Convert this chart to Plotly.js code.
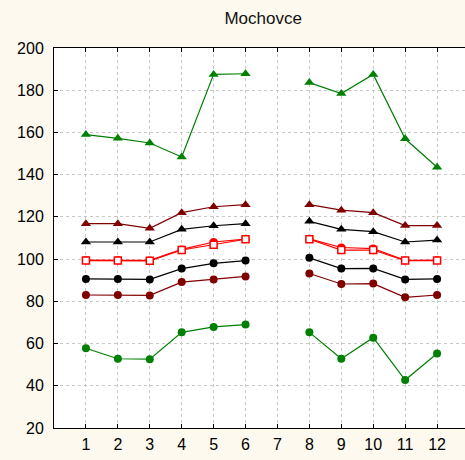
<!DOCTYPE html>
<html>
<head>
<meta charset="utf-8">
<script src="https://cdn.plot.ly/plotly-3.0.1.min.js"></script>
<style>
html,body{margin:0;padding:0;overflow:hidden;background:#fdf9ee;}
#chart{width:470px;height:460px;}
</style>
</head>
<body>
<div id="chart"></div>
<script>
var months = [1,2,3,4,5,6,7,8,9,10,11,12];
var greenTri   = [159, 157.2, 155, 148.4, 187.5, 187.8, null, 183.6, 178.4, 187.5, 157, 143.5];
var darkRedTri = [116.8, 116.8, 114.6, 122, 124.8, 125.8, null, 125.8, 123.2, 122, 115.9, 115.9];
var blackTri   = [108.1, 108.1, 108.1, 114.1, 115.8, 116.8, null, 117.9, 114.1, 113, 108.1, 109];
var redCircle  = [99.5, 99.5, 99.4, 104.6, 108.1, 109.5, null, 109.6, 105.5, 105, 99.4, 99.5];
var redSquare  = [99.3, 99.3, 99.2, 104.3, 106.8, 109.4, null, 109.4, 104.3, 104.3, 99.3, 99.3];
var blackCirc  = [90.6, 90.6, 90.4, 95.5, 98, 99.3, null, 100.6, 95.5, 95.6, 90.4, 90.6];
var darkRedCirc= [83, 83, 82.8, 89.1, 90.4, 91.8, null, 93.2, 88.2, 88.4, 81.9, 83];
var greenCirc  = [57.8, 52.8, 52.6, 65.3, 67.9, 69, null, 65.3, 52.8, 62.8, 42.7, 55.3];
var yTicks = [20,40,60,80,100,120,140,160,180,200];
var xTicks = months;

function tr(y, color, symbol, size, fill){
  return {x: months, y: y, type:'scatter', mode:'lines+markers',
    connectgaps:false, cliponaxis:false,
    line:{color:color, width:1.2},
    marker:{symbol:symbol, size:size, color: fill || color,
      line:{color:color, width: fill ? 1.5 : 0}},
    hoverinfo:'skip'};
}
var data = [
  tr(greenTri,'#008000','triangle-up',9),
  tr(darkRedTri,'#800000','triangle-up',9),
  tr(blackTri,'#000000','triangle-up',9),
  tr(redCircle,'#ff0000','circle',8),
  tr(redSquare,'#ff0000','square',7,'#ffffff'),
  tr(blackCirc,'#000000','circle',8),
  tr(darkRedCirc,'#800000','circle',8),
  tr(greenCirc,'#008000','circle',8)
];
var layout = {
  width:470, height:460,
  margin:{l:54, r:1, t:48, b:32},
  paper_bgcolor:'#fdf9ee', plot_bgcolor:'#ffffff',
  showlegend:false,
  font:{family:'Liberation Sans, Arial, sans-serif', size:16, color:'#000'},
  title:{text:'Mochovce', x:0.56, xanchor:'center', y:0.961, yanchor:'middle', font:{size:17, color:'#111'}},
  xaxis:{range:[0,13], tickvals:xTicks, ticktext:xTicks.map(String), ticks:'inside', ticklen:4, tickcolor:'#000',
    showline:true, linecolor:'#000', linewidth:1, mirror:'ticks',
    showgrid:true, gridcolor:'#c8c8c8', griddash:'3px,3px', gridwidth:1, zeroline:false,
    ticklabelstandoff:2, tickfont:{size:16}},
  yaxis:{range:[20,200], tickvals:yTicks, ticks:'inside', ticklen:4, tickcolor:'#000',
    showline:true, linecolor:'#000', linewidth:1, mirror:'ticks',
    showgrid:true, gridcolor:'#c8c8c8', griddash:'3px,3px', gridwidth:1, zeroline:false,
    ticklabelstandoff:6, tickfont:{size:16}}
};
Plotly.newPlot('chart', data, layout, {displayModeBar:false, staticPlot:true});
</script>
</body>
</html>
